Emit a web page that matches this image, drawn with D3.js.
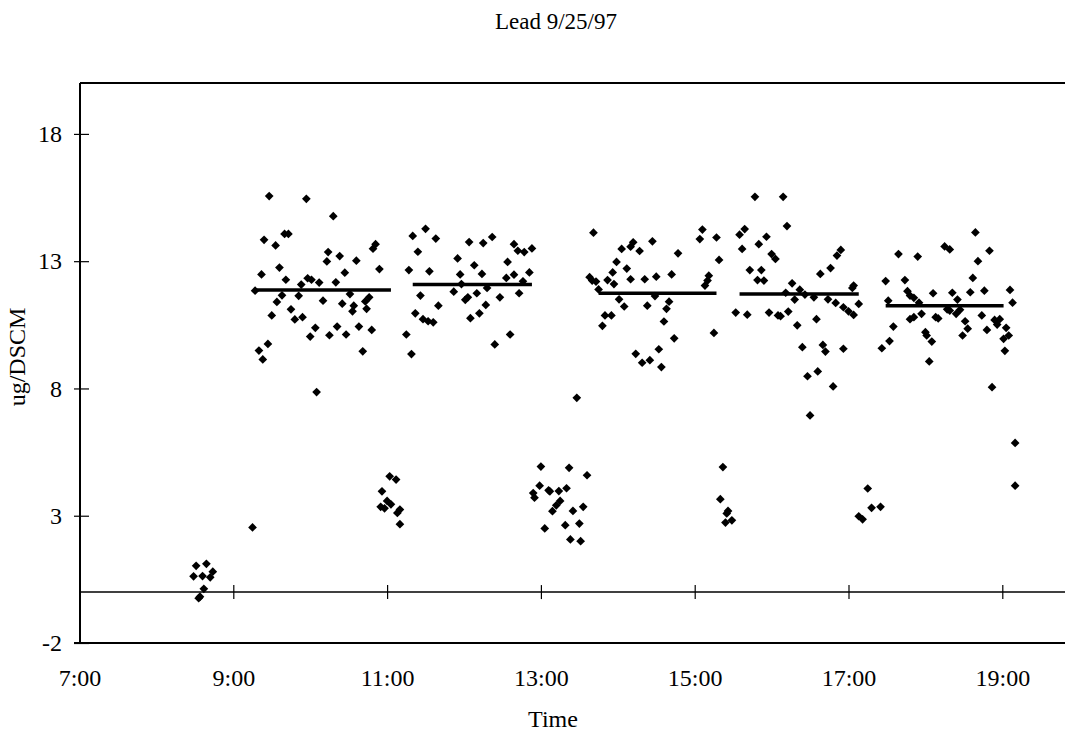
<!DOCTYPE html>
<html>
<head>
<meta charset="utf-8">
<script src="https://cdn.jsdelivr.net/npm/d3@7"></script>
<style>
  html, body { margin: 0; padding: 0; background: #fff; }
  svg { display: block; }
  text { font-family: "Liberation Serif", "Times New Roman", serif; fill: #000; }
</style>
</head>
<body>
<svg id="chart" width="1065" height="731"></svg>
<script>
// Lead concentration readings, 9/25/97 — [clock time, ug/DSCM]
const run1 = [
  ["9:28",15.56],["9:57",15.45],["10:18",14.77],["9:24",13.84],["9:33",13.62],["9:40",14.07],["9:43",14.07],
  ["10:14",13.36],["10:23",13.2],["10:13",12.99],["10:36",13.02],["10:51",13.67],["10:49",13.49],["10:54",12.69],
  ["9:22",12.48],["9:36",12.75],["9:41",12.27],["9:53",12.08],["9:58",12.33],["10:01",12.27],["10:07",12.16],
  ["10:20",12.17],["10:27",12.55],["9:17",11.84],["9:38",11.66],["9:51",11.64],["9:34",11.4],["10:10",11.45],
  ["10:25",11.33],["10:31",11.71],["10:34",11.25],["10:33",11.03],["10:43",11.42],["10:46",11.58],["10:44",11.13],
  ["9:45",11.11],["9:30",10.87],["9:48",10.71],["9:54",10.8],["10:04",10.38],["10:00",10.04],["10:21",10.43],
  ["10:15",10.09],["10:28",10.12],["10:38",10.43],["10:48",10.3],["10:41",9.46],["9:27",9.75],["9:20",9.49],
  ["9:23",9.14],["10:05",7.86]
];
const run2 = [
  ["11:20",13.99],["11:30",14.27],["11:38",13.89],["11:24",13.37],["11:17",12.65],["11:33",12.6],["12:04",13.75],
  ["12:15",13.71],["12:22",13.95],["11:55",13.11],["12:08",12.84],["11:57",12.48],["12:14",12.5],["12:39",13.67],
  ["12:42",13.41],["12:47",13.36],["12:53",13.5],["12:34",12.97],["12:39",12.47],["12:51",12.56],["12:33",12.34],
  ["12:46",12.21],["12:18",11.95],["11:52",11.8],["11:58",12.1],["12:10",11.74],["11:26",11.65],["12:01",11.48],
  ["12:03",11.58],["12:28",11.58],["12:43",11.74],["11:40",11.25],["12:17",11.28],["11:22",10.95],["11:28",10.72],
  ["11:32",10.64],["11:36",10.6],["12:05",10.76],["12:12",10.95],["11:15",10.12],["11:19",9.35],["12:24",9.73],
  ["12:36",10.12]
];
const run3 = [
  ["13:41",14.12],["14:03",13.48],["14:10",13.57],["14:12",13.74],["14:17",13.4],["14:27",13.78],["14:47",13.31],
  ["15:06",14.24],["15:04",13.87],["15:17",13.93],["15:19",13.05],["13:59",12.97],["14:07",12.71],["13:56",12.56],
  ["13:38",12.37],["13:43",12.2],["13:40",12.24],["13:52",12.26],["13:57",12.1],["14:10",12.29],["14:21",12.29],
  ["14:30",12.39],["14:42",12.48],["15:11",12.43],["15:10",12.24],["15:08",12.04],["13:45",11.89],["14:01",11.5],
  ["14:05",11.22],["14:29",11.63],["14:23",11.25],["14:40",11.41],["14:38",11.13],["13:50",10.87],["13:55",10.87],
  ["13:48",10.46],["14:36",10.63],["14:44",9.97],["15:15",10.18],["14:14",9.36],["14:19",9.01],["14:25",9.11],
  ["14:32",9.54],["14:34",8.84]
];
const run4 = [
  ["15:47",15.53],["16:09",15.53],["16:12",14.38],["15:35",14.04],["15:39",14.26],["15:37",13.48],["15:50",13.67],
  ["15:56",13.96],["16:00",13.28],["16:03",13.09],["16:54",13.44],["16:51",13.22],["16:46",12.73],["16:38",12.5],
  ["15:43",12.65],["15:52",12.65],["15:49",12.26],["15:54",12.24],["16:16",12.13],["16:22",11.88],["17:04",12.04],
  ["17:03",11.95],["16:11",11.76],["16:18",11.49],["16:26",11.69],["16:33",11.58],["16:44",11.5],["16:50",11.36],
  ["16:56",11.19],["17:00",11.03],["17:04",10.89],["17:08",11.32],["15:32",10.98],["15:41",10.9],["15:58",10.98],
  ["16:05",10.87],["16:07",10.84],["16:13",11.02],["16:20",10.48],["16:35",10.72],["16:24",9.62],["16:40",9.71],
  ["16:42",9.45],["16:56",9.56],["16:28",8.48],["16:36",8.67],["16:48",8.08],["16:30",6.94]
];
const run5 = [
  ["18:39",14.13],["18:15",13.58],["18:19",13.46],["18:50",13.41],["17:39",13.28],["17:54",13.18],["18:41",13.0],
  ["17:29",12.22],["17:44",12.26],["18:37",12.34],["19:06",11.87],["19:08",11.37],["17:46",11.82],["17:48",11.65],
  ["17:51",11.56],["18:06",11.74],["18:21",11.76],["18:35",11.78],["18:46",11.84],["17:31",11.45],["17:55",11.37],
  ["18:25",11.49],["17:57",10.93],["17:48",10.72],["17:51",10.8],["18:08",10.8],["18:10",10.75],["18:17",11.11],
  ["18:19",11.06],["18:24",10.93],["18:27",11.09],["18:44",10.87],["18:54",10.69],["18:58",10.72],["18:56",10.51],
  ["19:03",10.38],["19:05",10.08],["19:01",9.95],["19:02",9.48],["18:48",10.3],["18:31",10.64],["18:33",10.35],
  ["18:29",10.08],["17:35",10.43],["17:32",9.86],["17:26",9.58],["18:00",10.21],["18:01",10.08],["18:05",9.84],
  ["18:03",9.06],["18:52",8.05]
];
// readings taken outside the test runs
const betweenRuns = [
  ["8:31",1.03],["8:39",1.11],["8:29",0.62],["8:36",0.63],["8:42",0.58],["8:44",0.8],["8:37",0.13],["8:34",-0.18],["8:33",-0.24],
  ["9:15",2.54],
  ["11:02",4.55],["11:07",4.42],["10:56",3.96],["10:55",3.35],["10:58",3.29],["11:00",3.58],["11:03",3.45],["11:10",3.24],["11:08",3.11],["11:10",2.67],
  ["13:28",7.63],["13:00",4.93],["13:22",4.88],["13:36",4.59],["12:59",4.18],["13:06",4.0],["13:07",3.96],["13:14",3.97],["13:20",4.08],
  ["12:54",3.89],["12:55",3.71],["13:15",3.58],["13:12",3.41],["13:09",3.18],["13:25",3.19],["13:33",3.35],["13:03",2.5],["13:19",2.63],
  ["13:30",2.69],["13:23",2.07],["13:31",2.0],
  ["15:22",4.91],["15:20",3.65],["15:26",3.19],["15:25",3.09],["15:24",2.73],["15:29",2.82],
  ["17:15",4.07],["17:18",3.31],["17:25",3.35],["17:08",2.98],["17:11",2.86],
  ["19:10",5.86],["19:10",4.18]
];

// run averages drawn as horizontal bars
const runStart = ["9:17","11:20","13:45","15:35","17:29"];
const runEnd   = ["11:03","12:53","15:17","17:08","19:01"];
const runMean  = [11.87, 12.08, 11.74, 11.71, 11.25];

const yTicks = [-2, 3, 8, 13, 18];
const xTickHours = ["7:00","9:00","11:00","13:00","15:00","17:00","19:00"];
const timeDomain = ["7:00","20:00"];
const yDomain = [-2, 20];

const parse = d3.timeParse("%H:%M");
const fmt = d3.timeFormat("%-H:%M");

const svg = d3.select("#chart");
const plotLeft = 80, plotTop = 83, plotBottom = 643;

const x = d3.scaleTime()
  .domain(timeDomain.map(parse))
  .range([79.5, 79.5 + 13 * 76.9]);
const y = d3.scaleLinear().domain(yDomain).range([plotBottom, plotTop]);

// frame: top and bottom border lines
svg.append("line").attr("x1", plotLeft).attr("x2", 1065).attr("y1", plotTop).attr("y2", plotTop)
  .attr("stroke", "#000").attr("stroke-width", 2);
svg.append("line").attr("x1", 74).attr("x2", 1065).attr("y1", plotBottom).attr("y2", plotBottom)
  .attr("stroke", "#000").attr("stroke-width", 2);

// y axis with ticks crossing the axis line; plain hyphen for negatives
const yAxis = svg.append("g")
  .attr("transform", `translate(${plotLeft},0)`)
  .call(d3.axisLeft(y).tickValues(yTicks).tickFormat(d => String(d))
    .tickSizeInner(6).tickSizeOuter(0).tickPadding(12));
yAxis.select(".domain").attr("stroke-width", 2).attr("d", `M0,${plotTop}V${plotBottom}`);
yAxis.selectAll(".tick line").attr("x1", -6).attr("x2", 9).attr("stroke-width", 1.2);
yAxis.selectAll(".tick text").attr("font-size", 24).style("font-family", "Liberation Serif");

// time labels along the bottom border
const xLabels = svg.append("g")
  .attr("transform", `translate(0,${plotBottom})`)
  .call(d3.axisBottom(x).tickValues(xTickHours.map(parse)).tickFormat(fmt).tickSize(0).tickPadding(26));
xLabels.select(".domain").remove();
xLabels.selectAll(".tick text").attr("font-size", 24).style("font-family", "Liberation Serif");

// zero reference line with hour ticks
const y0 = y(0);
svg.append("line").attr("x1", plotLeft).attr("x2", 1065).attr("y1", y0).attr("y2", y0)
  .attr("stroke", "#000").attr("stroke-width", 1.5);
const zeroTicks = svg.append("g")
  .attr("transform", `translate(0,${y0})`)
  .call(d3.axisBottom(x).tickValues(xTickHours.slice(1).map(parse)).tickFormat(""));
zeroTicks.select(".domain").remove();
zeroTicks.selectAll(".tick line").attr("y1", -7).attr("y2", 7).attr("stroke-width", 1.2);

// data points as diamonds
const diamond = d3.symbol().type(d3.symbolSquare).size(38)();
const allPoints = [...betweenRuns, ...run1, ...run2, ...run3, ...run4, ...run5];
svg.append("g").selectAll("path")
  .data(allPoints)
  .join("path")
  .attr("d", diamond)
  .attr("transform", d => `translate(${x(parse(d[0]))},${y(d[1])}) rotate(45)`)
  .attr("fill", "#000");

// run averages
svg.append("g").selectAll("line")
  .data(runMean)
  .join("line")
  .attr("x1", (d, i) => x(parse(runStart[i])))
  .attr("x2", (d, i) => x(parse(runEnd[i])))
  .attr("y1", d => y(d))
  .attr("y2", d => y(d))
  .attr("stroke", "#000")
  .attr("stroke-width", 3.5);

// titles
svg.append("text").attr("x", 556).attr("y", 29).attr("text-anchor", "middle")
  .attr("font-size", 23).text("Lead 9/25/97");
svg.append("text").attr("x", 553).attr("y", 727).attr("text-anchor", "middle")
  .attr("font-size", 24).text("Time");
svg.append("text").attr("transform", "translate(25,357) rotate(-90)").attr("text-anchor", "middle")
  .attr("font-size", 24).text("ug/DSCM");
</script>
</body>
</html>
